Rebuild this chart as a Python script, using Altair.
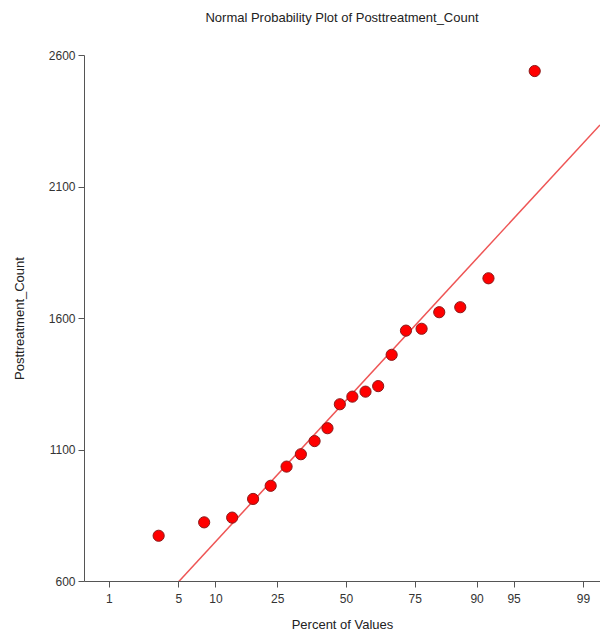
import altair as alt
import pandas as pd
from statistics import NormalDist

# Data
percent_of_values = [3.3, 8.2, 13.2, 18.1, 23.0, 28.0, 32.9, 37.9, 42.8, 47.6,
                     52.5, 57.6, 62.4, 67.3, 72.2, 77.1, 82.0, 86.9, 91.9, 96.8]
posttreatment_count = [772, 823, 841, 912, 962, 1035, 1082, 1132, 1181, 1272,
                       1301, 1320, 1341, 1460, 1552, 1559, 1622, 1641, 1751, 2539]
tick_percents = [1, 5, 10, 25, 50, 75, 90, 95, 99]
fit_mean = 1287
fit_sd = 420

nd = NormalDist()
z_min, z_max = -2.571, 2.493

pts = pd.DataFrame({
    "z": [nd.inv_cdf(p / 100) for p in percent_of_values],
    "count": posttreatment_count,
})
line = pd.DataFrame({
    "z": [z_min, z_max],
    "count": [fit_mean + fit_sd * z_min, fit_mean + fit_sd * z_max],
})
tick_z = [nd.inv_cdf(p / 100) for p in tick_percents]

FONT = "Liberation Sans"

x = alt.X("z:Q",
          scale=alt.Scale(domain=[z_min, z_max], nice=False, zero=False),
          axis=alt.Axis(title="Percent of Values", values=tick_z,
                        labelExpr="format(cumulativeNormal(datum.value)*100, '.0f')",
                        grid=False, tickSize=6, labelPadding=6, titlePadding=14,
                        labelFontSize=12, titleFontSize=13, labelFont=FONT, titleFont=FONT,
                        labelColor="#333333", titleColor="#222222",
                        domainColor="#555555", tickColor="#555555",
                        labelFontWeight="normal", titleFontWeight="normal"))
y = alt.Y("count:Q",
          scale=alt.Scale(domain=[600, 2600], nice=False, zero=False),
          axis=alt.Axis(title="Posttreatment_Count", values=[600, 1100, 1600, 2100, 2600],
                        format="d",
                        grid=False, tickSize=6, labelPadding=3, titlePadding=22,
                        labelFontSize=12, titleFontSize=13, labelFont=FONT, titleFont=FONT,
                        labelColor="#333333", titleColor="#222222",
                        domainColor="#555555", tickColor="#555555",
                        labelFontWeight="normal", titleFontWeight="normal"))

fit = alt.Chart(line).mark_line(color="#EE5555", strokeWidth=1.5, clip=True).encode(x=x, y=y)
dots = alt.Chart(pts).mark_point(filled=True, shape="circle", size=125, fill="#FF0000",
                                  stroke="#8B1A1A", strokeWidth=1, opacity=1).encode(x=x, y=y)

chart = (fit + dots).properties(
    width=516, height=526,
    title=alt.TitleParams("Normal Probability Plot of Posttreatment_Count",
                          font=FONT, fontSize=13, fontWeight="normal",
                          color="#222222", anchor="middle", offset=24),
    autosize=alt.AutoSizeParams(type="none"),
    padding={"left": 76, "top": 47, "right": 0, "bottom": 52},
).configure(background="white").configure_view(stroke=None)

chart.save("out.html", embed_options={"renderer": "svg", "actions": False})
